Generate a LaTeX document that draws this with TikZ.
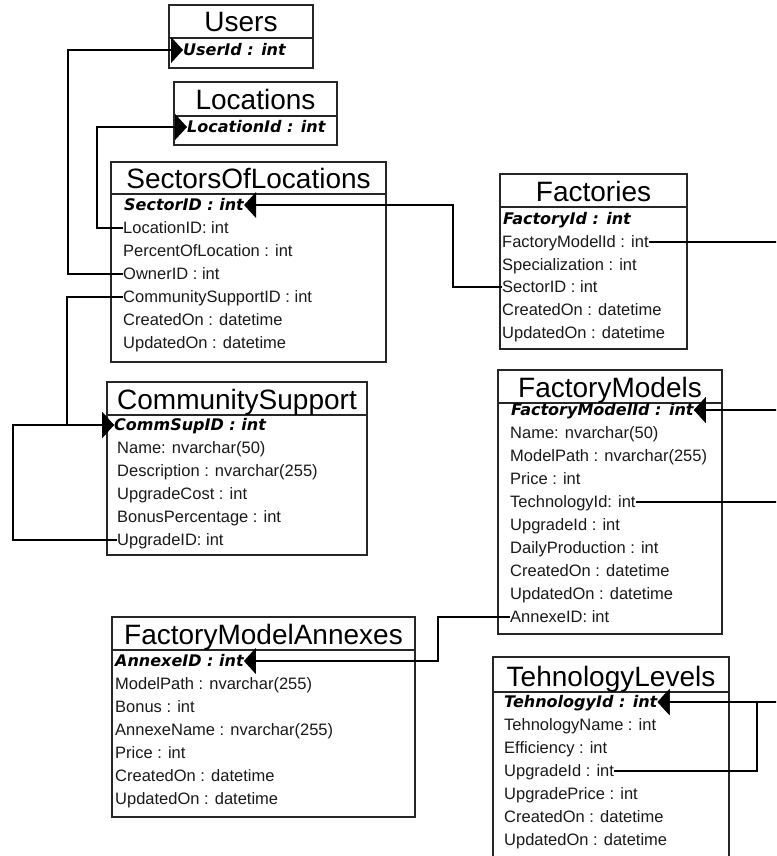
\documentclass[tikz,border=0pt]{standalone}
\usepackage{fontspec}
\setmainfont{Liberation Sans}
\newfontfamily\pkfont{DejaVu Sans}
\usetikzlibrary{arrows.meta}
\newcommand\erdtable[7]{%
  \node[tbox, minimum width={#4-#2}, minimum height={#6-#3}] (#1) at (#2,#3) {};
  \draw[hdr] (#1.west |- 0,#5) -- (#1.east |- 0,#5);
  \node[ttl] (#1-t) at ({(#2+#4)/2},{#5-6}) {#7};
}
\begin{document}
\begin{tikzpicture}[x=1pt,y=-1pt,
  tbox/.style={draw=black!85, line width=1.3pt, inner sep=0pt, outer sep=0pt, anchor=north west},
  hdr/.style={draw=black!85, line width=1.3pt},
  ttl/.style={font=\fontsize{28}{28}\selectfont, anchor=base, inner sep=0pt},
  row/.style={font=\fontsize{16.5}{16.5}\selectfont, text=black!90, anchor=west, inner sep=0pt, text height=11.8pt, text depth=0pt},
  pk/.style={font=\pkfont\fontsize{16}{16}\bfseries\itshape\selectfont, anchor=west, inner sep=0pt, text height=11.6pt, text depth=0pt},
  ref/.style={draw=black, line width=1.1pt, -{Triangle[length=12pt,width=26pt]}},
]
\useasboundingbox (0,0) rectangle (776,856);
\clip (0,0) rectangle (776,856);

% Users
\erdtable{users}{169}{5}{313}{38}{68}{Users}
\node[pk] (users-id) at (183,50) {UserId : int};

% Locations
\erdtable{loc}{174}{82}{337}{116}{145}{Locations}
\node[pk] (loc-id) at (187,127) {LocationId : int};

% SectorsOfLocations
\erdtable{sol}{111}{162}{386}{194}{362}{SectorsOfLocations}
\node[pk] (sol-id) at (124,205) {SectorID : int};
\node[row] (sol-loc) at (123,228) {LocationID: int};
\node[row] (sol-pct) at (123,251) {PercentOfLocation : int};
\node[row] (sol-own) at (123,274) {OwnerID : int};
\node[row] (sol-cs)  at (123,297) {CommunitySupportID : int};
\node[row] (sol-cr)  at (123,320) {CreatedOn : datetime};
\node[row] (sol-up)  at (123,343) {UpdatedOn : datetime};

% Factories
\erdtable{fac}{500}{174}{687}{207}{349}{Factories}
\node[pk] (fac-id) at (503,219) {FactoryId : int};
\node[row] (fac-fm)   at (502,242) {FactoryModelId : int};
\node[row] (fac-spec) at (502,265) {Specialization : int};
\node[row] (fac-sec)  at (502,287) {SectorID : int};
\node[row] (fac-cr)   at (502,310) {CreatedOn : datetime};
\node[row] (fac-up)   at (502,333) {UpdatedOn : datetime};

% CommunitySupport
\erdtable{cs}{107}{382}{367}{415}{555}{CommunitySupport}
\node[pk] (cs-id) at (114,425) {CommSupID : int};
\node[row] (cs-name) at (117,448) {Name: nvarchar(50)};
\node[row] (cs-desc) at (117,471) {Description : nvarchar(255)};
\node[row] (cs-cost) at (117,494) {UpgradeCost : int};
\node[row] (cs-bon)  at (117,517) {BonusPercentage : int};
\node[row] (cs-upg)  at (117,540) {UpgradeID: int};

% FactoryModels
\erdtable{fm}{498}{370}{722}{403}{634}{FactoryModels}
\node[pk] (fm-id) at (511,410) {FactoryModelId : int};
\node[row] (fm-name)  at (510,433) {Name: nvarchar(50)};
\node[row] (fm-path)  at (510,456) {ModelPath : nvarchar(255)};
\node[row] (fm-price) at (510,479) {Price : int};
\node[row] (fm-tech)  at (510,502) {TechnologyId: int};
\node[row] (fm-upg)   at (510,525) {UpgradeId : int};
\node[row] (fm-daily) at (510,548) {DailyProduction : int};
\node[row] (fm-cr)    at (510,571) {CreatedOn : datetime};
\node[row] (fm-up)    at (510,594) {UpdatedOn : datetime};
\node[row] (fm-ax)    at (510,617) {AnnexeID: int};

% FactoryModelAnnexes
\erdtable{fma}{112}{617}{415}{650}{817}{FactoryModelAnnexes}
\node[pk] (fma-id) at (115,661) {AnnexeID : int};
\node[row] (fma-path)  at (115,684) {ModelPath : nvarchar(255)};
\node[row] (fma-bonus) at (115,707) {Bonus : int};
\node[row] (fma-name)  at (115,730) {AnnexeName : nvarchar(255)};
\node[row] (fma-price) at (115,753) {Price : int};
\node[row] (fma-cr)    at (115,776) {CreatedOn : datetime};
\node[row] (fma-up)    at (115,799) {UpdatedOn : datetime};

% TehnologyLevels
\erdtable{tl}{493}{657}{729}{692}{880}{TehnologyLevels}
\node[pk] (tl-id) at (504,702) {TehnologyId : int};
\node[row] (tl-name)  at (504,725) {TehnologyName : int};
\node[row] (tl-eff)   at (504,748) {Efficiency : int};
\node[row] (tl-upg)   at (504,771) {UpgradeId : int};
\node[row] (tl-price) at (504,794) {UpgradePrice : int};
\node[row] (tl-cr)    at (504,817) {CreatedOn : datetime};
\node[row] (tl-up)    at (504,840) {UpdatedOn : datetime};

% bend columns
\coordinate (bU)   at (68,0);
\coordinate (bL)   at (97,0);
\coordinate (bCS)  at (67,0);
\coordinate (bUp)  at (13,0);
\coordinate (bSec) at (453,0);
\coordinate (bR)   at (795,0);
\coordinate (bTU)  at (757,0);
\coordinate (bAx)  at (438,0);

% connectors
\draw[ref] (sol-own.west) -| (bU |- users-id.west) -- (users-id.west);
\draw[ref] (sol-loc.west) -| (bL |- loc-id.west) -- (loc-id.west);
\draw[ref] (sol-cs.west) -| (bCS |- cs-id.west) -- (cs-id.west);
\draw[ref] (cs-upg.west) -| (bUp |- cs-id.west) -- (cs-id.west);
\draw[ref] (fac-sec.west) -| (bSec |- sol-id.east) -- (sol-id.east);
\draw[ref] (fac-fm.east) -| (bR |- fm-id.east) -- (fm-id.east);
\draw[ref] (fm-tech.east) -| (bR |- tl-id.east) -- (tl-id.east);
\draw[ref] (tl-upg.east) -| (bTU |- tl-id.east) -- (tl-id.east);
\draw[ref] (fm-ax.west) -| (bAx |- fma-id.east) -- (fma-id.east);
\end{tikzpicture}
\end{document}
